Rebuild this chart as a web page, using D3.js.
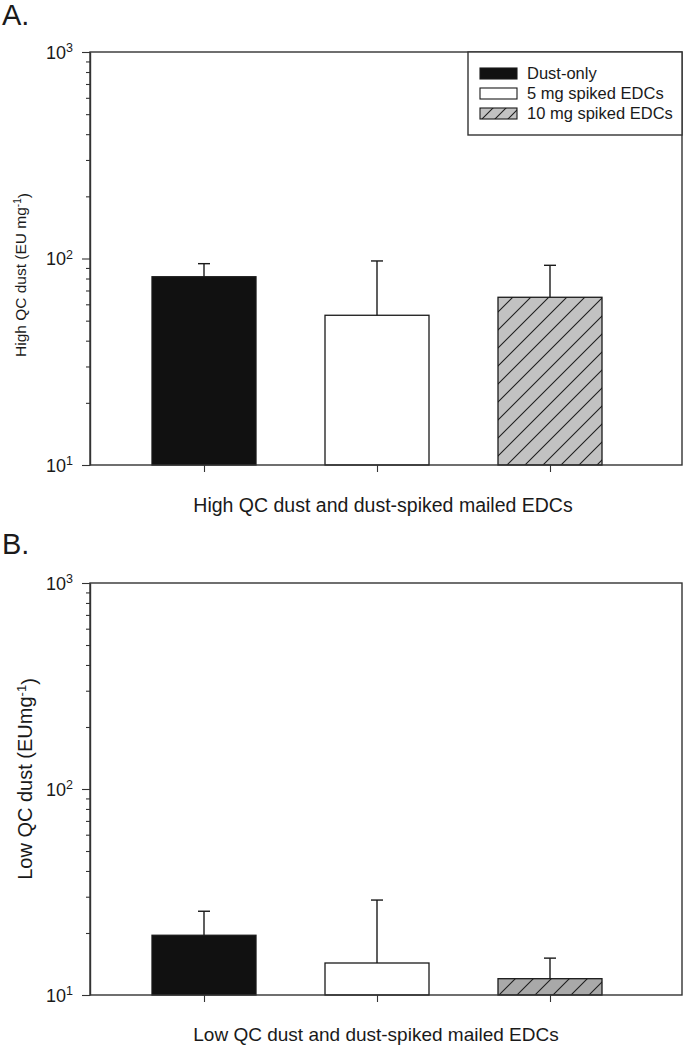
<!DOCTYPE html>
<html>
<head>
<meta charset="utf-8">
<script src="https://cdn.jsdelivr.net/npm/d3@7"></script>
<style>
  html, body { margin: 0; padding: 0; background: #fff; }
  svg { display: block; font-family: "Liberation Sans", Arial, sans-serif; }
</style>
</head>
<body>
<svg id="chart" width="685" height="1049"></svg>
<script>
// ---- data ----
const categories = ["Dust-only", "5 mg spiked EDCs", "10 mg spiked EDCs"];
const highMeans = [81.6, 53.1, 64.9];
const highErr = [12.8, 44.2, 27.8];
const lowMeans = [19.5, 14.3, 12.0];
const lowErr = [6.0, 14.6, 3.1];
const yMajorTicks = [10, 100, 1000];
const yDomain = [10, 1000];

const svg = d3.select("#chart");
const ink = "#1a1a1a";

// patterns
const defs = svg.append("defs");
function hatch(id, size, fill) {
  const p = defs.append("pattern").attr("id", id)
    .attr("patternUnits", "userSpaceOnUse")
    .attr("width", size).attr("height", size);
  p.append("rect").attr("width", size).attr("height", size).attr("fill", fill);
  const h = size / 4;
  p.append("path")
    .attr("d", `M0,${size} L${size},0 M${-h},${h} L${h},${-h} M${size - h},${size + h} L${size + h},${size - h}`)
    .attr("stroke", "#1e1e1e").attr("stroke-width", 1.1);
}
hatch("hatchA", 18, "#c2c2c2");
hatch("hatchB", 18, "#a9a9a9");
hatch("hatchL", 13, "#c2c2c2");

const fills = ["#111111", "#ffffff", null];

function panel(cfg) {
  const { top, bottom, left, right, means, errs, hatchId } = cfg;
  const g = svg.append("g");
  const y = d3.scaleLog().domain(yDomain).range([bottom, top]);
  const x = d3.scalePoint().domain(categories).range([204, 550]);
  const barW = 104;

  // bars
  g.selectAll("rect.bar").data(categories).join("rect")
    .attr("class", "bar")
    .attr("x", d => x(d) - barW / 2)
    .attr("width", barW)
    .attr("y", (d, i) => y(means[i]))
    .attr("height", (d, i) => y(yDomain[0]) - y(means[i]))
    .attr("fill", (d, i) => fills[i] || `url(#${hatchId})`)
    .attr("stroke", ink).attr("stroke-width", 1.3);

  // error bars (upper only)
  const eb = g.selectAll("g.err").data(categories).join("g").attr("class", "err");
  eb.append("line")
    .attr("x1", d => x(d)).attr("x2", d => x(d))
    .attr("y1", (d, i) => y(means[i]))
    .attr("y2", (d, i) => y(means[i] + errs[i]))
    .attr("stroke", ink).attr("stroke-width", 1.4);
  eb.append("line")
    .attr("x1", d => x(d) - 6).attr("x2", d => x(d) + 6)
    .attr("y1", (d, i) => y(means[i] + errs[i]))
    .attr("y2", (d, i) => y(means[i] + errs[i]))
    .attr("stroke", ink).attr("stroke-width", 1.4);

  // frame
  g.append("rect")
    .attr("x", left).attr("y", top)
    .attr("width", right - left).attr("height", bottom - top)
    .attr("fill", "none").attr("stroke", "#333").attr("stroke-width", 1.4);

  // y axis with minor ticks
  const allTicks = [];
  for (let e = 1; e <= 2; e++) for (let m = 1; m <= 9; m++) allTicks.push(m * Math.pow(10, e));
  allTicks.push(1000);
  const yAxis = d3.axisLeft(y).tickValues(allTicks).tickSize(4).tickSizeOuter(0).tickFormat("");
  const ya = g.append("g").attr("transform", `translate(${left},0)`).call(yAxis);
  ya.select(".domain").attr("stroke", "#333").attr("stroke-width", 1.4);
  ya.selectAll(".tick line").attr("stroke", "#333").attr("stroke-width", 1.1)
    .attr("x2", d => yMajorTicks.includes(d) ? -8 : -4);
  ya.selectAll(".tick").filter(d => yMajorTicks.includes(d)).each(function(d) {
    const t = d3.select(this).append("text")
      .attr("x", -17).attr("dy", "0.36em")
      .attr("text-anchor", "end").attr("fill", ink)
      .style("font-size", "18px");
    t.append("tspan").text("10");
    t.append("tspan").attr("dy", "-0.55em").style("font-size", "12.5px").text(Math.round(Math.log10(d)));
  });

  // x axis ticks
  const xAxis = d3.axisBottom(x).tickSize(7).tickSizeOuter(0).tickFormat("");
  const xa = g.append("g").attr("transform", `translate(0,${bottom})`).call(xAxis);
  xa.select(".domain").remove();
  xa.selectAll(".tick line").attr("stroke", "#333").attr("stroke-width", 1.1);

  // x label
  g.append("text")
    .attr("x", cfg.xlabX).attr("y", cfg.xlabY)
    .attr("text-anchor", "middle").attr("fill", ink)
    .style("font-size", cfg.xlabSize + "px")
    .text(cfg.xlabel);

  // y label
  const yl = g.append("text")
    .attr("transform", `translate(${cfg.ylabX},${cfg.ylabY}) rotate(-90)`)
    .attr("text-anchor", "middle").attr("fill", ink)
    .style("font-size", cfg.ylabSize + "px");
  yl.append("tspan").text(cfg.ylabel);
  yl.append("tspan").attr("dy", "-0.5em").style("font-size", (cfg.ylabSize * 0.65) + "px").text("-1");
  yl.append("tspan").attr("dy", "0.5em").text(")");

  // panel letter
  g.append("text").attr("x", 2).attr("y", cfg.letterY)
    .attr("fill", ink).style("font-size", "29px").text(cfg.letter);

  return g;
}

panel({
  top: 52, bottom: 465, left: 90, right: 682,
  means: highMeans, errs: highErr, hatchId: "hatchA",
  xlabel: "High QC dust and dust-spiked mailed EDCs", xlabX: 383, xlabY: 512, xlabSize: 19.5,
  ylabel: "High QC dust (EU mg", ylabX: 26, ylabY: 275, ylabSize: 15.5,
  letter: "A.", letterY: 25
});

panel({
  top: 583, bottom: 995, left: 90, right: 682,
  means: lowMeans, errs: lowErr, hatchId: "hatchB",
  xlabel: "Low QC dust and dust-spiked mailed EDCs", xlabX: 376, xlabY: 1041, xlabSize: 19,
  ylabel: "Low QC dust (EUmg", ylabX: 32, ylabY: 779, ylabSize: 20,
  letter: "B.", letterY: 554
});

// legend (panel A)
const lg = svg.append("g");
lg.append("rect").attr("x", 468).attr("y", 52).attr("width", 214).attr("height", 83)
  .attr("fill", "#fff").attr("stroke", "#333").attr("stroke-width", 1.4);
const legFills = ["#111111", "#ffffff", "url(#hatchL)"];
const li = lg.selectAll("g.li").data(categories).join("g").attr("class", "li")
  .attr("transform", (d, i) => `translate(480,${68 + i * 20})`);
li.append("rect").attr("width", 37).attr("height", 11)
  .attr("fill", (d, i) => legFills[i]).attr("stroke", ink).attr("stroke-width", 1.1);
li.append("text").attr("x", 47).attr("y", 11).attr("fill", ink)
  .style("font-size", "16.5px").text(d => d);
</script>
</body>
</html>
